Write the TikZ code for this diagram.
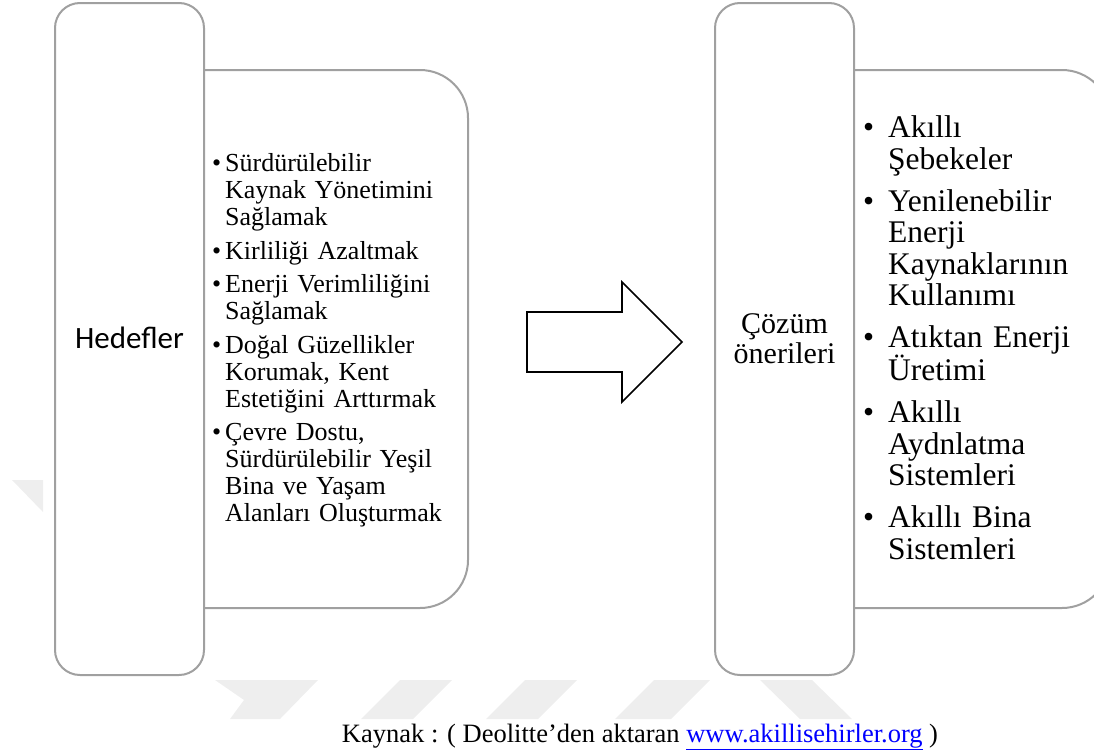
\documentclass[tikz,border=0pt]{standalone}
\usepackage{fontspec}
\setmainfont{Liberation Serif}
\newfontfamily\calib{Carlito}
\definecolor{boxgray}{HTML}{A0A0A0}
\definecolor{wmgray}{HTML}{EEEEEE}
\definecolor{linkblue}{HTML}{0000FF}

% bullet item with hanging indent: #1 = indent, #2 = text
\newcommand\bulitem[2]{\par\hangindent=#1\hangafter=1\noindent\hbox to #1{\textbullet\hss}#2}

\tikzset{
  panel/.style={draw=boxgray, line width=2pt, fill=white},
  listbox/.style={anchor=north west, inner sep=0pt, align=left, text width=#1},
  watermark/.style={fill=wmgray, draw=none},
  bigarrow/.style={draw=black, line width=1.6pt, fill=white, line join=miter}
}

\begin{document}
\begin{tikzpicture}[x=1pt, y=-1pt]
\useasboundingbox (0,0) rectangle (1094,755);
\clip (0,0) rectangle (1094,755);

% faint background watermark
\fill[watermark] (12,480) -- (43,480) -- (43,512) -- cycle;
\fill[watermark] (215,680) -- (318,680) -- (280,719) -- (230,719) -- (244,700) -- cycle;
\fill[watermark] (400,680) -- (452,680) -- (413,719) -- (361,719) -- cycle;
\fill[watermark] (525,680) -- (577,680) -- (538,719) -- (486,719) -- cycle;
\fill[watermark] (654,680) -- (710,680) -- (671,719) -- (615,719) -- cycle;
\fill[watermark] (760,680) -- (812,680) -- (852,719) -- (800,719) -- cycle;

% left group: wide list panel behind the tall title panel
\draw[panel, rounded corners=48pt] (150,70) rectangle (468,608);
\draw[panel, rounded corners=25pt] (55,3) rectangle (204,675);
\node[inner sep=0pt, anchor=base, font=\calib\fontsize{31}{33}\selectfont] (hedef) at (129.5,348) {Hedefler};

\node[listbox=250pt, font=\fontsize{26}{27}\selectfont] (hlist) at (212,138) {%
  \setlength{\parskip}{6.5pt}%
  \bulitem{13pt}{Sürdürülebilir\newline Kaynak Yönetimini\newline Sağlamak}%
  \bulitem{13pt}{Kirliliği Azaltmak}%
  \bulitem{13pt}{Enerji Verimliliğini\newline Sağlamak}%
  \bulitem{13pt}{Doğal Güzellikler\newline Korumak, Kent\newline Estetiğini Arttırmak}%
  \bulitem{13pt}{Çevre Dostu,\newline Sürdürülebilir Yeşil\newline Bina ve Yaşam\newline Alanları Oluşturmak}\par};

% block arrow between the groups
\coordinate (ar0) at (527,312);
\draw[bigarrow] (ar0) -- (622,312) -- (622,282) -- (682,342) -- (622,402) -- (622,372) -- (527,372) -- cycle;

% right group
\draw[panel, rounded corners=48pt] (800,70) rectangle (1110,608);
\draw[panel, rounded corners=25pt] (715,3) rectangle (854,675);
\node[inner sep=0pt, anchor=north, align=center, font=\fontsize{30}{30}\selectfont] (cozum) at (784.5,313) {Çözüm\\önerileri};

\node[listbox=225pt, font=\fontsize{31.5}{31.5}\selectfont] (clist) at (863,95.5) {%
  \setlength{\parskip}{10.5pt}%
  \bulitem{25pt}{Akıllı\newline Şebekeler}%
  \bulitem{25pt}{Yenilenebilir\newline Enerji\newline Kaynaklarının\newline Kullanımı}%
  \bulitem{25pt}{Atıktan Enerji\newline Üretimi}%
  \bulitem{25pt}{Akıllı\newline Aydnlatma\newline Sistemleri}%
  \bulitem{25pt}{Akıllı Bina\newline Sistemleri}\par};

% source line
\node[inner sep=0pt, anchor=base, font=\fontsize{26.5}{28}\selectfont] (kaynak) at (640,742)
  {Kaynak : ( Deolitte’den aktaran {\color{linkblue}\underline{www.akillisehirler.org}} )};
\end{tikzpicture}
\end{document}
